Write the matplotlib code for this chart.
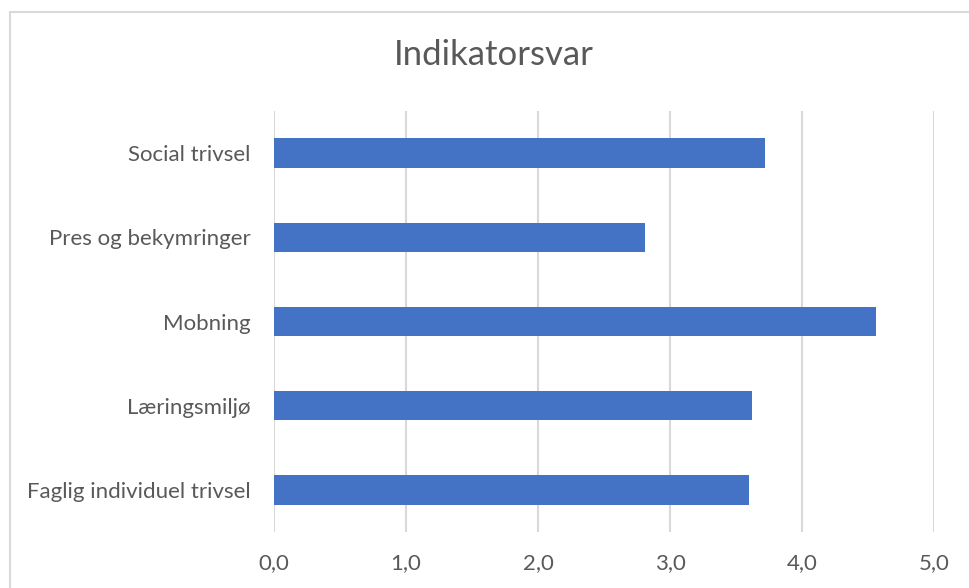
import matplotlib
matplotlib.use("Agg")
import matplotlib.pyplot as plt
from matplotlib.patches import Rectangle
from matplotlib.ticker import FuncFormatter

categories = ["Faglig individuel trivsel", "Læringsmiljø", "Mobning", "Pres og bekymringer", "Social trivsel"]
values = [3.60, 3.62, 4.56, 2.81, 3.72]
xticks = [0, 1, 2, 3, 4, 5]
title = "Indikatorsvar"

plt.rcParams['font.family'] = ['Lato', 'DejaVu Sans']
fig = plt.figure(figsize=(9.69, 5.88), dpi=100)
fig.patch.set_facecolor('white')

# chart border
fig.add_artist(Rectangle((10/969, -0.1), 1.1, (588-12)/588 + 0.1, transform=fig.transFigure,
                         fill=False, edgecolor='#D9D9D9', linewidth=1.5))

ax = fig.add_axes([274/969, (588-532)/588, (934-274)/969, (532-111)/588])
ax.barh(range(len(categories)), values, height=0.35, color='#4472C4', zorder=3)
ax.set_xlim(0, 5)
ax.set_ylim(-0.5, len(categories) - 0.5)
ax.set_xticks(xticks)
ax.xaxis.set_major_formatter(FuncFormatter(lambda v, p: f"{v:.1f}".replace('.', ',')))
ax.set_yticks(range(len(categories)))
ax.set_yticklabels(categories)
ax.grid(axis='x', color='#D9D9D9', linewidth=1.5, zorder=0)
for s in ax.spines.values():
    s.set_visible(False)
ax.tick_params(axis='both', length=0, labelsize=16, labelcolor='#595959')
ax.tick_params(axis='x', pad=15)
ax.tick_params(axis='y', pad=17)
fig.text((395+593)/2/969, 1 - 55/588, title, ha='center', va='center', fontsize=25, color='#595959')
fig.savefig("out.png", dpi=100, facecolor='white')
